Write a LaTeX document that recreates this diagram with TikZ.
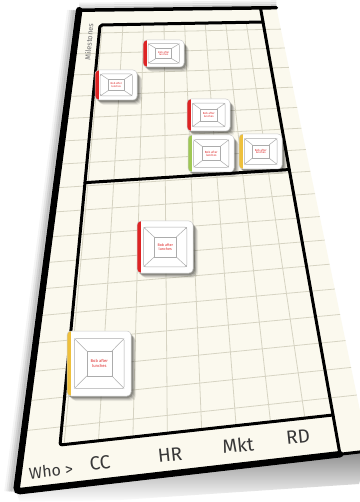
\documentclass[tikz,border=0pt]{standalone}
\usepackage{fontspec}
\setmainfont{Fira Sans}
\usetikzlibrary{calc}
\definecolor{cream}{RGB}{251,249,238}
\definecolor{gridc}{RGB}{214,211,194}
\definecolor{tred}{RGB}{222,36,36}
\definecolor{tgreen}{RGB}{160,200,85}
\definecolor{tyellow}{RGB}{238,192,60}
\tikzset{
  declare function={
    gg(\vv)=\vv/(1.24-0.24*\vv);
    Px(\uu,\vv)=(1-\uu)*(100-40*gg(\vv))+\uu*(263+70*gg(\vv));
    Py(\uu,\vv)=(1-\uu)*(25+420*gg(\vv))+\uu*(22+393*gg(\vv));
  },
  gridline/.style={draw=gridc,line width=0.8},
  frameline/.style={draw=black,line width=3,line cap=round,line join=round},
  label/.style={text=black!78,inner sep=0,rotate=6},
  cardtext/.style={text=tred,inner sep=0,align=center},
}
\newcommand\boardcard[7]{%
\begin{scope}[shift={(#2,#3)}]
  \foreach \sh/\op in {5/0.07,4/0.11,3/0.15,2/0.2}{%
    \fill[black,opacity=\op,rounded corners=5] (\sh-1,\sh) rectangle (#4+\sh,#5+\sh);}
  \fill[white,rounded corners=4] (0,0) rectangle (#4,#5);
  \begin{scope}
    \clip[rounded corners=4] (0,0) rectangle (#4,#5);
    \fill[#6] (0,0) rectangle (3.6,#5);
  \end{scope}
  \draw[gray!40,line width=0.5,rounded corners=4] (0,0) rectangle (#4,#5);
  \coordinate (#1a) at (0.1*#4+1,0.1*#5+1);
  \coordinate (#1b) at (0.9*#4-0.5,0.1*#5+1);
  \coordinate (#1c) at (0.9*#4-0.5,0.9*#5-1);
  \coordinate (#1d) at (0.1*#4+1,0.9*#5-1);
  \coordinate (#1e) at (0.31*#4,0.31*#5);
  \coordinate (#1f) at (0.70*#4,0.31*#5);
  \coordinate (#1g) at (0.70*#4,0.69*#5);
  \coordinate (#1h) at (0.31*#4,0.69*#5);
  \draw[gray!65,line width=0.5,rounded corners=2] (#1a) -- (#1b) -- (#1c) -- (#1d) -- cycle;
  \draw[gray!65,line width=0.5] (#1e) -- (#1f) -- (#1g) -- (#1h) -- cycle;
  \draw[gray!65,line width=0.5] (#1a) -- (#1e) (#1b) -- (#1f) (#1c) -- (#1g) (#1d) -- (#1h);
  \node[cardtext,font=\fontsize{#7}{#7}\selectfont] (#1) at (0.505*#4,0.5*#5) {Bob after\\lunches};
\end{scope}}
\begin{document}
\begin{tikzpicture}[x=1pt,y=-1pt]
\useasboundingbox (0,0) rectangle (359,502);
\fill[white] (0,0) rectangle (359,502);
% key points of the board
\coordinate (oTL) at ({Px(-0.14,-0.045)},{Py(-0.14,-0.045)});
\coordinate (oTR) at ({Px(1.10,-0.045)},{Py(1.10,-0.045)});
\coordinate (oBL) at ({Px(-0.14,1.079)},{Py(-0.14,1.079)});
\coordinate (oBR) at ({Px(1.10,1.079)},{Py(1.10,1.079)});
\coordinate (oBM) at ({Px(1.0,1.079)},{Py(1.0,1.079)});
\coordinate (iTL) at ({Px(0,0)},{Py(0,0)});
\coordinate (iTR) at ({Px(1,0)},{Py(1,0)});
\coordinate (iBL) at ({Px(0,1)},{Py(0,1)});
\coordinate (iBR) at ({Px(1,1)},{Py(1,1)});
\coordinate (rTop) at ({Px(1,-0.045)},{Py(1,-0.045)});
\coordinate (dL) at ({Px(0,0.427)},{Py(0,0.427)});
\coordinate (dR) at ({Px(1,0.427)},{Py(1,0.427)});
% shadows of the board
\shade[top color=black!45,bottom color=white] (oBL) -- (oBM) -- (oBR) -- (359,484) -- (120,500) -- (20,502) -- cycle;
\foreach \dd/\op in {9/0.04,7/0.06,5/0.08,3/0.12}{%
  \draw[black,opacity=\op,line width=6] ($(oTL)+(-\dd,0)$) -- ($(oBL)+(-\dd,0)$);}
\foreach \dd/\op in {6/0.05,4/0.08,2/0.12}{%
  \draw[black,opacity=\op,line width=3] ($(oTL)+(0,-\dd)$) -- ($(oTR)+(0,-\dd)$);}
% board
\fill[cream] (oTL) -- (oTR) -- (oBR) -- (oBL) -- cycle;
% grid
\foreach \k in {0,...,16}{%
  \pgfmathsetmacro\vk{(\k+0.4)/17}
  \draw[gridline] ({Px(-0.14,\vk)},{Py(-0.14,\vk)}) -- ({Px(1.10,\vk)},{Py(1.10,\vk)});}
\foreach \k in {0,...,7}{%
  \pgfmathsetmacro\uk{0.015+0.126*\k}
  \draw[gridline] ({Px(\uk,0)},{Py(\uk,0)}) -- ({Px(\uk,1)},{Py(\uk,1)});}
% frame lines
\draw[frameline,rounded corners=2] (iTR) -- (iTL) -- (iBL) -- (iBR);
\draw[frameline] (rTop) -- (oBM);
\draw[frameline] (dL) -- (dR);
% outer border
\draw[black,line width=3.5,line cap=round] (oTL) -- (oTR);
\draw[black,line width=6.5,rounded corners=4,line cap=round] (oTL) -- (oBL) -- (oBM);
\draw[black,line width=3] (oBM) -- (oBR);
% labels
\node[text=black!55,inner sep=0,rotate=85,font=\fontsize{7.5}{8}\selectfont] (milestones) at (89,42) {Milestones};
\node[label,font=\fontsize{16}{18}\selectfont] (who) at (51,471) {Who >};
\node[label,font=\fontsize{19}{21}\selectfont] (cc) at (100,463) {CC};
\node[label,font=\fontsize{19}{21}\selectfont] (hr) at (170,455) {HR};
\node[label,font=\fontsize{19}{21}\selectfont] (mkt) at (238,445) {Mkt};
\node[label,font=\fontsize{19}{21}\selectfont] (rd) at (298,437) {RD};
% cards
\boardcard{c1}{143}{40}{41}{27}{tred}{2.6}
\boardcard{c2}{95}{70}{42}{30}{tred}{2.7}
\boardcard{c3}{187}{99}{43}{32}{tred}{2.8}
\boardcard{c4}{188}{135}{46}{37}{tgreen}{3}
\boardcard{c5}{239}{134}{43}{35}{tyellow}{2.8}
\boardcard{c6}{137}{221}{56}{52}{tred}{3.7}
\boardcard{c7}{67}{331}{64}{65}{tyellow}{4.1}
\end{tikzpicture}
\end{document}
